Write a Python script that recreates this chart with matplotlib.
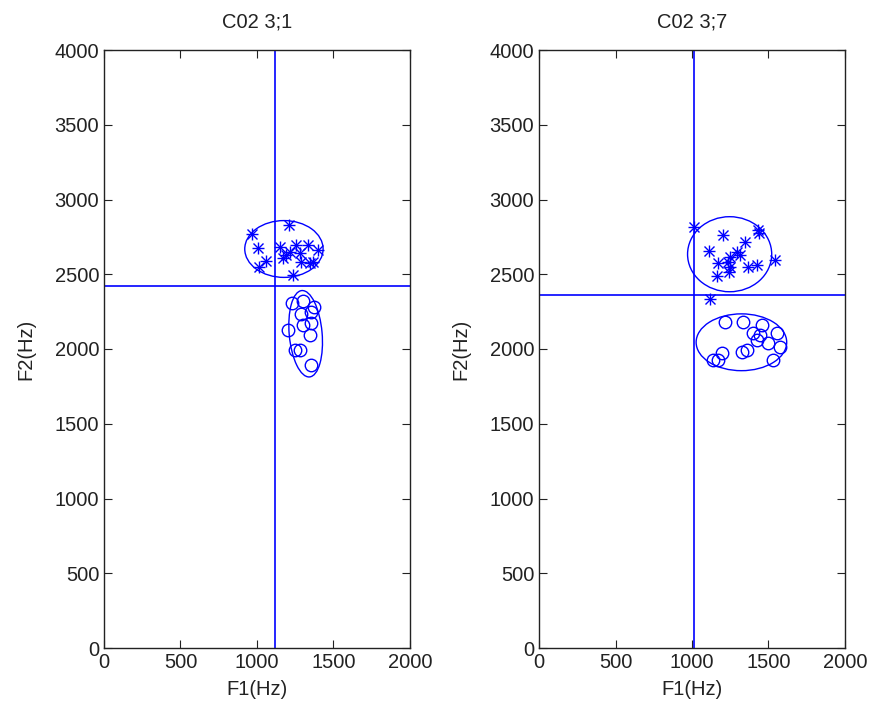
import numpy as np
import matplotlib.pyplot as plt
from matplotlib.patches import Ellipse

plt.rcParams['font.family'] = ['Liberation Sans', 'DejaVu Sans']

# ---- panel 1: C02 3;1
star1_f1 = [970, 1007, 1209, 1057, 1013, 1148, 1170, 1258, 1333, 1399, 1290, 1344, 1235, 1214, 1192, 1279, 1366]
star1_f2 = [2767, 2674, 2829, 2589, 2551, 2684, 2607, 2696, 2696, 2662, 2584, 2573, 2495, 2651, 2629, 2640, 2584]
circ1_f1 = [1231, 1300, 1372, 1290, 1355, 1203, 1300, 1355, 1344, 1246, 1279, 1355]
circ1_f2 = [2305, 2318, 2278, 2234, 2245, 2127, 2161, 2172, 2094, 1993, 1993, 1893]
cross1 = (1115, 2421)
# ellipse: centre f1, centre f2, width, height, angle
ell1_star = (1176, 2669, 512, 380, 0)
ell1_circ = (1318, 2102, 580, 215, 95)

# ---- panel 2: C02 3;7
star2_f1 = [1014, 1205, 1434, 1440, 1108, 1347, 1293, 1249, 1238, 1173, 1249, 1314, 1369, 1423, 1543, 1162, 1245, 1119]
star2_f2 = [2818, 2763, 2796, 2778, 2658, 2718, 2651, 2617, 2584, 2573, 2551, 2629, 2551, 2562, 2595, 2488, 2517, 2332]
circ2_f1 = [1217, 1336, 1456, 1401, 1445, 1554, 1423, 1499, 1575, 1195, 1173, 1325, 1358, 1532, 1140]
circ2_f2 = [2183, 2183, 2161, 2105, 2094, 2105, 2060, 2038, 2015, 1971, 1926, 1982, 1993, 1926, 1926]
cross2 = (1010, 2361)
ell2_star = (1246, 2634, 550, 502, 0)
ell2_circ = (1323, 2045, 592, 380, 0)

panels = [
    ('C02 3;1', star1_f1, star1_f2, circ1_f1, circ1_f2, cross1, ell1_star, ell1_circ),
    ('C02 3;7', star2_f1, star2_f2, circ2_f1, circ2_f2, cross2, ell2_star, ell2_circ),
]

blue = '#0000ff'
fig = plt.figure(figsize=(8.7, 7.13), dpi=100)
lefts = [104/870, 539/870]
for left, (title, sf1, sf2, cf1, cf2, cross, es, ec) in zip(lefts, panels):
    ax = fig.add_axes([left, 65/713, 306/870, 598/713])
    # matlab style asterisk = plus + x on top of each other
    ax.plot(sf1, sf2, '+', color=blue, ms=9, mew=1.0, ls='none')
    ax.plot(sf1, sf2, 'x', color=blue, ms=6.5, mew=1.0, ls='none')
    ax.plot(cf1, cf2, 'o', color=blue, ms=9, mew=1.0, mfc='none', ls='none')
    for e in (es, ec):
        ax.add_patch(Ellipse((e[0], e[1]), e[2], e[3], angle=e[4],
                             fill=False, edgecolor=blue, lw=1.0))
    ax.axvline(cross[0], color=blue, lw=1.2)
    ax.axhline(cross[1], color=blue, lw=1.2)
    ax.set_xlim(0, 2000)
    ax.set_ylim(0, 4000)
    ax.set_xticks(np.arange(0, 2001, 500))
    ax.set_yticks(np.arange(0, 4001, 500))
    ax.tick_params(direction='in', top=True, right=True, length=6, labelsize=14.5, colors='#222222')
    for s in ax.spines.values():
        s.set_color('#222222')
        s.set_linewidth(1.0)
    ax.set_title(title, fontsize=14.5, color='#222222', pad=16)
    ax.set_xlabel('F1(Hz)', fontsize=14.5, color='#222222', labelpad=6)
    ax.set_ylabel('F2(Hz)', fontsize=14.5, color='#222222', labelpad=14)

fig.savefig('out.png', dpi=100)
